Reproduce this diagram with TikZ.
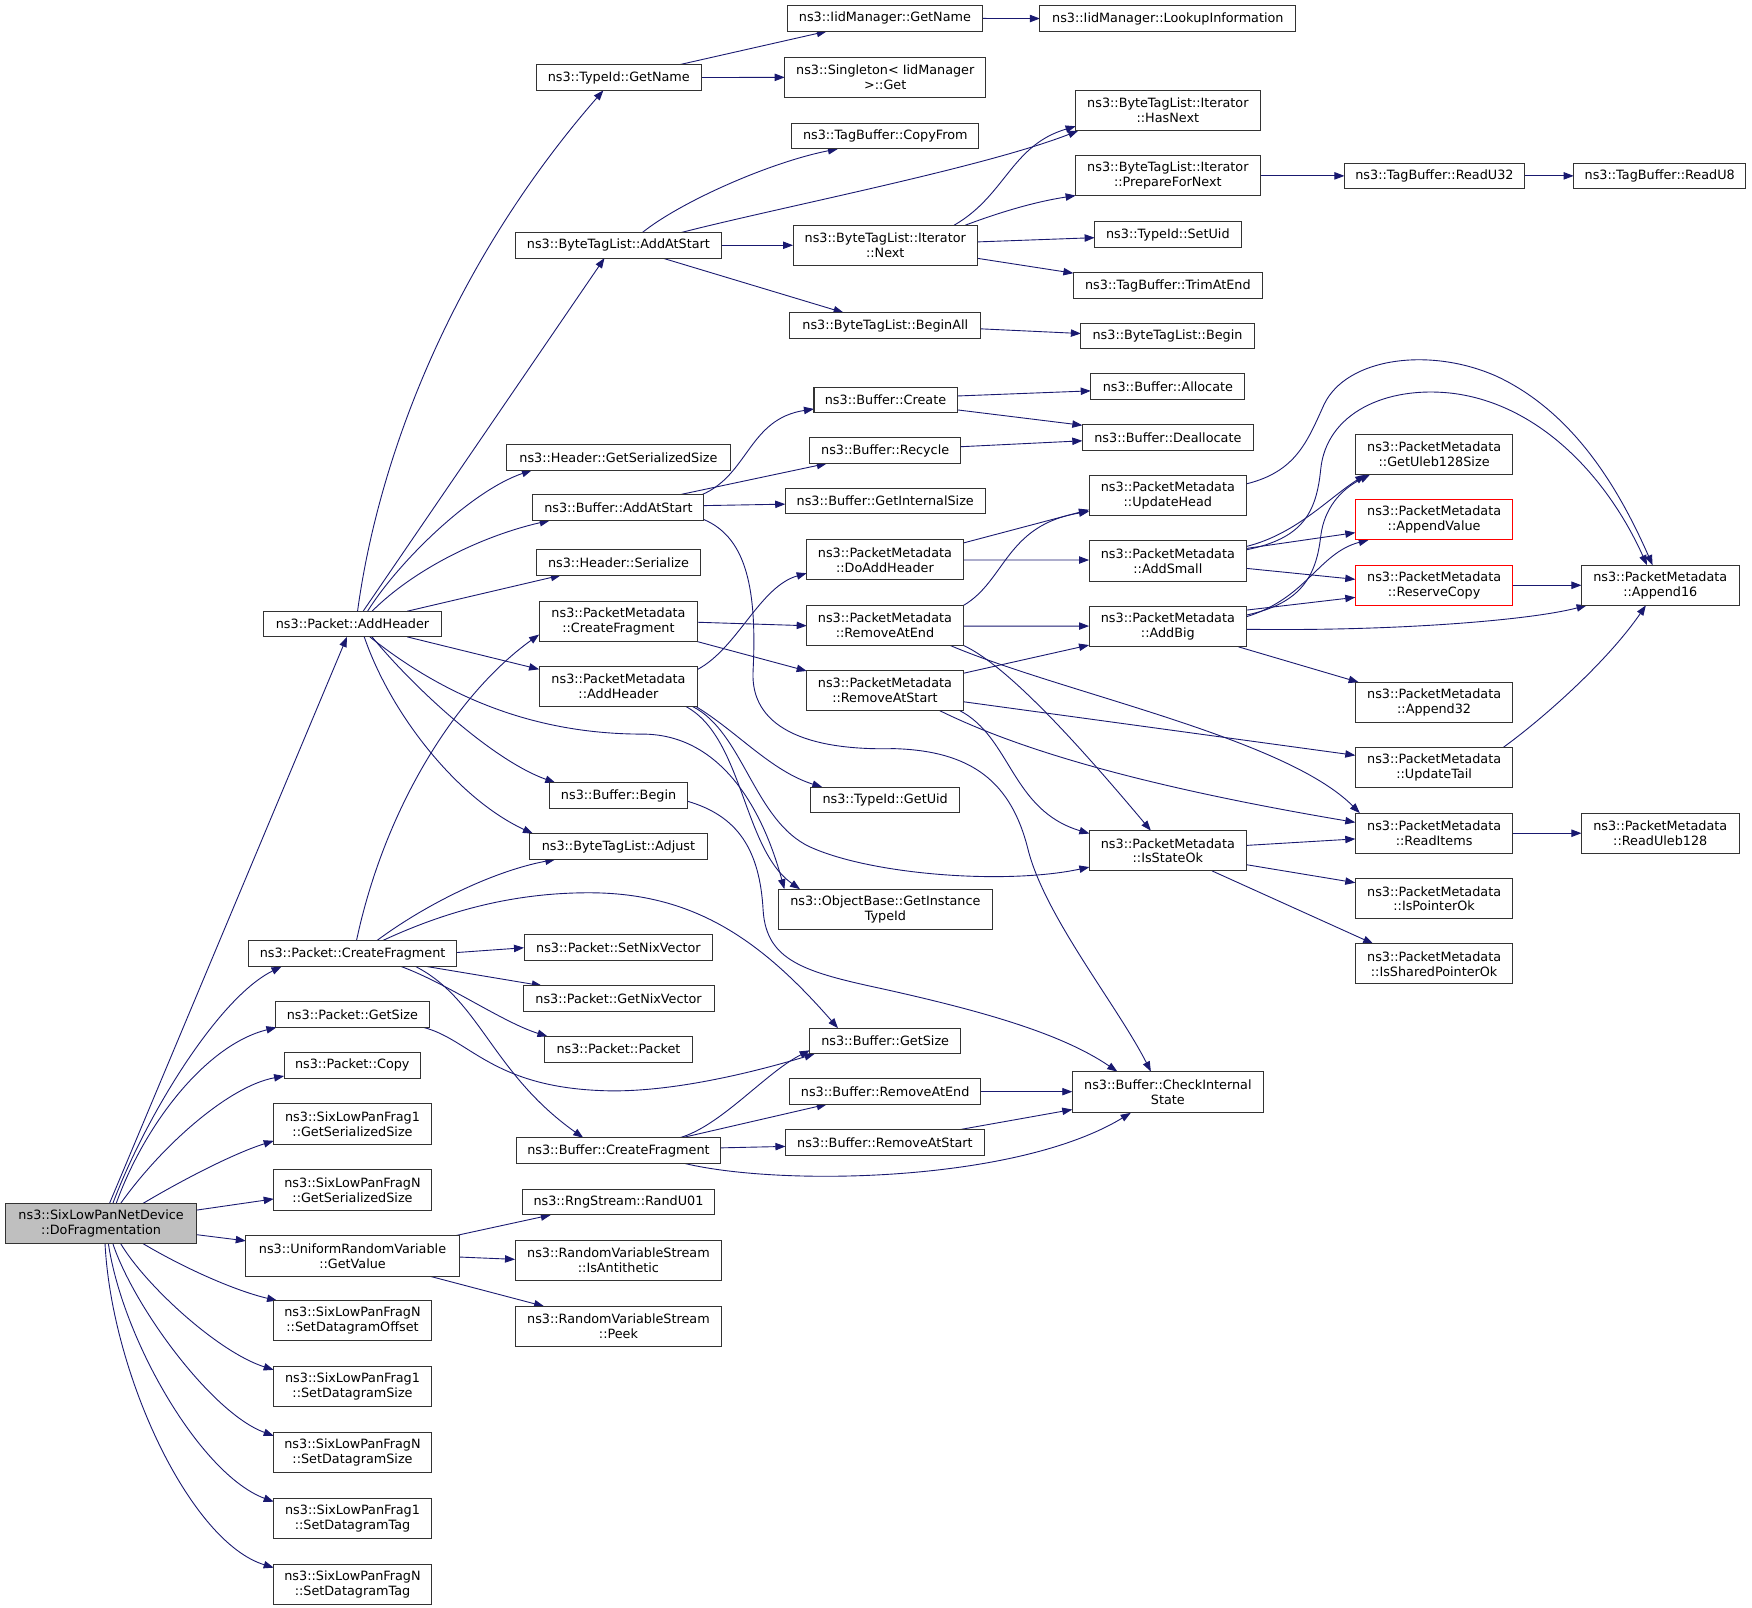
\documentclass[tikz,border=0pt]{standalone}
\usepackage{fontspec}
\setmainfont{DejaVu Sans}
\usetikzlibrary{arrows.meta,calc}
\definecolor{mblue}{HTML}{191970}
\definecolor{bgray}{HTML}{BFBFBF}
\pgfdeclarelayer{bg}
\pgfdeclarelayer{canvas}
\pgfsetlayers{canvas,bg,main}
\begin{document}
\begin{tikzpicture}[x=1pt,y=-1pt,
 fn/.style={draw=black!80, line width=0.9pt, fill=white, inner sep=0pt, minimum height=23pt, align=center, font=\fontsize{11.45pt}{13.3pt}\selectfont},
 fn2/.style={fn, minimum height=36pt},
 fnred/.style={fn2, draw=red},
 conn/.style={draw=mblue, line width=0.8pt, -{Triangle[length=9pt,width=6.6pt]}}]
\useasboundingbox (0,0) rectangle (1568,1438.3);
\begin{pgfonlayer}{canvas}
\fill[white] (0,0) rectangle (1568,1438.3);
\end{pgfonlayer}
% column B
\node[fn2, minimum width=171pt, fill=bgray] (dofrag) at (90.5,1095) {ns3::SixLowPanNetDevice\\::DoFragmentation};
\node[fn, minimum width=159pt] (pAddHeader) at (315.5,558.5) {ns3::Packet::AddHeader};
\node[fn, minimum width=186pt] (pCreateFrag) at (315.6,853.5) {ns3::Packet::CreateFragment};
\node[fn, minimum width=138pt] (pGetSize) at (315.4,908) {ns3::Packet::GetSize};
\node[fn, minimum width=122pt] (pCopy) at (315.3,953.5) {ns3::Packet::Copy};
\node[fn2, minimum width=141pt] (f1GSS) at (315.5,1006) {ns3::SixLowPanFrag1\\::GetSerializedSize};
\node[fn2, minimum width=141pt] (fNGSS) at (315.5,1065) {ns3::SixLowPanFragN\\::GetSerializedSize};
\node[fn2, minimum width=191pt] (urvGetValue) at (315.5,1124) {ns3::UniformRandomVariable\\::GetValue};
\node[fn2, minimum width=141pt] (fNSDO) at (315.5,1182) {ns3::SixLowPanFragN\\::SetDatagramOffset};
\node[fn2, minimum width=141pt] (f1SDS) at (315.5,1241) {ns3::SixLowPanFrag1\\::SetDatagramSize};
\node[fn2, minimum width=141pt] (fNSDS) at (315.5,1300) {ns3::SixLowPanFragN\\::SetDatagramSize};
\node[fn2, minimum width=141pt] (f1SDT) at (315.5,1359) {ns3::SixLowPanFrag1\\::SetDatagramTag};
\node[fn2, minimum width=141pt] (fNSDT) at (315.5,1418) {ns3::SixLowPanFragN\\::SetDatagramTag};
% column C
\node[fn, minimum width=148pt] (tiGetName) at (553.8,69.4) {ns3::TypeId::GetName};
\node[fn, minimum width=185pt] (btlAddAtStart) at (553.5,219.5) {ns3::ByteTagList::AddAtStart};
\node[fn, minimum width=200pt] (hGSS) at (553.5,409.3) {ns3::Header::GetSerializedSize};
\node[fn, minimum width=153pt] (bAddAtStart) at (553.5,454.3) {ns3::Buffer::AddAtStart};
\node[fn, minimum width=147pt] (hSerialize) at (553.5,503.3) {ns3::Header::Serialize};
\node[fn2, minimum width=142pt] (pmCreateFrag) at (553.5,555.9) {ns3::PacketMetadata\\::CreateFragment};
\node[fn2, minimum width=142pt] (pmAddHeader) at (553.5,614.4) {ns3::PacketMetadata\\::AddHeader};
\node[fn, minimum width=123pt] (bBegin) at (553.6,712) {ns3::Buffer::Begin};
\node[fn, minimum width=159pt] (btlAdjust) at (553.5,757.6) {ns3::ByteTagList::Adjust};
\node[fn, minimum width=169pt] (pSetNix) at (553.5,848.2) {ns3::Packet::SetNixVector};
\node[fn, minimum width=171pt] (pGetNix) at (553.6,893.7) {ns3::Packet::GetNixVector};
\node[fn, minimum width=132pt] (pPacket) at (553.5,939) {ns3::Packet::Packet};
\node[fn, minimum width=183pt] (bCreateFrag) at (553.5,1029.8) {ns3::Buffer::CreateFragment};
\node[fn, minimum width=172pt] (rngRand) at (553.5,1075.8) {ns3::RngStream::RandU01};
\node[fn2, minimum width=185pt] (rvsAnti) at (553.5,1128.1) {ns3::RandomVariableStream\\::IsAntithetic};
\node[fn2, minimum width=185pt] (rvsPeek) at (553.5,1187.1) {ns3::RandomVariableStream\\::Peek};
% column D
\node[fn, minimum width=175pt] (iidGetName) at (792,16.5) {ns3::IidManager::GetName};
\node[fn2, minimum width=180pt] (singGet) at (792.3,69.2) {ns3::Singleton< IidManager\\ >::Get};
\node[fn, minimum width=167pt] (tbCopyFrom) at (792.3,121.7) {ns3::TagBuffer::CopyFrom};
\node[fn2, minimum width=165pt] (itNext) at (792.3,219.5) {ns3::ByteTagList::Iterator\\::Next};
\node[fn, minimum width=171pt] (btlBeginAll) at (792.3,291.3) {ns3::ByteTagList::BeginAll};
\node[fn, minimum width=128pt] (bCreate) at (792.5,357.9) {ns3::Buffer::Create};
\node[fn, minimum width=135pt] (bRecycle) at (792.2,403.3) {ns3::Buffer::Recycle};
\node[fn, minimum width=179pt] (bGIS) at (792.3,448.5) {ns3::Buffer::GetInternalSize};
\node[fn2, minimum width=140pt] (pmDoAddHeader) at (792,501) {ns3::PacketMetadata\\::DoAddHeader};
\node[fn2, minimum width=140pt] (pmRemoveAtEnd) at (792,559.5) {ns3::PacketMetadata\\::RemoveAtEnd};
\node[fn2, minimum width=140pt] (pmRemoveAtStart) at (792,618) {ns3::PacketMetadata\\::RemoveAtStart};
\node[fn, minimum width=133pt] (tiGetUid) at (792.2,716) {ns3::TypeId::GetUid};
\node[fn2, minimum width=191pt] (obGITI) at (792.4,813.8) {ns3::ObjectBase::GetInstance\\TypeId};
\node[fn, minimum width=135pt] (bGetSize) at (792.2,931.7) {ns3::Buffer::GetSize};
\node[fn, minimum width=171pt] (bRemoveAtEnd) at (792.2,976.8) {ns3::Buffer::RemoveAtEnd};
\node[fn, minimum width=178pt] (bRemoveAtStart) at (792,1022.8) {ns3::Buffer::RemoveAtStart};
% column E
\node[fn, minimum width=229pt] (iidLookup) at (1045.2,16.6) {ns3::IidManager::LookupInformation};
\node[fn2, minimum width=165pt] (itHasNext) at (1045.2,99) {ns3::ByteTagList::Iterator\\::HasNext};
\node[fn2, minimum width=165pt] (itPrepare) at (1045.2,157.4) {ns3::ByteTagList::Iterator\\::PrepareForNext};
\node[fn, minimum width=131pt] (tiSetUid) at (1045.2,209.9) {ns3::TypeId::SetUid};
\node[fn, minimum width=169pt] (tbTrimAtEnd) at (1045.2,255.5) {ns3::TagBuffer::TrimAtEnd};
\node[fn, minimum width=155pt] (btlBegin) at (1044.9,300.7) {ns3::ByteTagList::Begin};
\node[fn, minimum width=138pt] (bAllocate) at (1045.2,346) {ns3::Buffer::Allocate};
\node[fn, minimum width=153pt] (bDeallocate) at (1045.2,391.4) {ns3::Buffer::Deallocate};
\node[fn2, minimum width=141pt] (pmUpdateHead) at (1045.2,443.6) {ns3::PacketMetadata\\::UpdateHead};
\node[fn2, minimum width=141pt] (pmAddSmall) at (1045.2,502.1) {ns3::PacketMetadata\\::AddSmall};
\node[fn2, minimum width=141pt] (pmAddBig) at (1045.2,560.9) {ns3::PacketMetadata\\::AddBig};
\node[fn2, minimum width=141pt] (pmIsStateOk) at (1045.2,761.4) {ns3::PacketMetadata\\::IsStateOk};
\node[fn2, minimum width=171pt, minimum height=37pt] (bCheckInternal) at (1045.2,977.5) {ns3::Buffer::CheckInternal\\State};
% column F
\node[fn, minimum width=161pt] (tbReadU32) at (1283.8,157.4) {ns3::TagBuffer::ReadU32};
\node[fn2, minimum width=141pt] (pmGetUleb) at (1283.5,406.9) {ns3::PacketMetadata\\::GetUleb128Size};
\node[fnred, minimum width=141pt] (pmAppendValue) at (1283.5,465.1) {ns3::PacketMetadata\\::AppendValue};
\node[fnred, minimum width=141pt] (pmReserveCopy) at (1283.5,523.8) {ns3::PacketMetadata\\::ReserveCopy};
\node[fn2, minimum width=141pt] (pmAppend32) at (1283.5,628.6) {ns3::PacketMetadata\\::Append32};
\node[fn2, minimum width=141pt] (pmUpdateTail) at (1283.5,687.2) {ns3::PacketMetadata\\::UpdateTail};
\node[fn2, minimum width=141pt] (pmReadItems) at (1283.5,745.7) {ns3::PacketMetadata\\::ReadItems};
\node[fn2, minimum width=141pt] (pmIsPointerOk) at (1283.5,804.3) {ns3::PacketMetadata\\::IsPointerOk};
\node[fn2, minimum width=141pt] (pmIsSharedPointerOk) at (1283.5,862.6) {ns3::PacketMetadata\\::IsSharedPointerOk};
% column G
\node[fn, minimum width=154pt] (tbReadU8) at (1485.4,157.4) {ns3::TagBuffer::ReadU8};
\node[fn2, minimum width=141pt] (pmAppend16) at (1485.9,523.8) {ns3::PacketMetadata\\::Append16};
\node[fn2, minimum width=141pt] (pmReadUleb) at (1485.9,745.7) {ns3::PacketMetadata\\::ReadUleb128};

\begin{pgfonlayer}{bg}
% from DoFragmentation
\draw[conn] ($(dofrag)+(7.5,-18)$) -- ($(pAddHeader)+(-5,11.5)$);
\draw[conn] ($(dofrag)+(10.5,-18)$) .. controls (130,1000) and (195,893) .. ($(pCreateFrag)+(-63.6,11.5)$);
\draw[conn] ($(dofrag)+(13.5,-18)$) .. controls (130,1005) and (185,935) .. ($(pGetSize)+(-68,11.5)$);
\draw[conn] ($(dofrag)+(17.5,-18)$) .. controls (145,1025) and (205,972) .. ($(pCopy)+(-61,9.5)$);
\draw[conn] ($(dofrag)+(37.5,-18)$) .. controls (165,1055) and (210,1032) .. ($(f1GSS)+(-70.5,15)$);
\draw[conn] ($(dofrag)+(85.5,-12)$) -- ($(fNGSS)+(-70.5,8)$);
\draw[conn] ($(dofrag)+(85.5,10)$) -- ($(urvGetValue)+(-95.5,-13.5)$);
\draw[conn] ($(dofrag)+(37.5,18)$) .. controls (165,1135) and (210,1155) .. ($(fNSDO)+(-67.5,-18)$);
\draw[conn] ($(dofrag)+(17.5,18)$) .. controls (130,1150) and (195,1210) .. ($(f1SDS)+(-70.5,-15)$);
\draw[conn] ($(dofrag)+(10.5,18)$) .. controls (120,1170) and (190,1265) .. ($(fNSDS)+(-70.5,-15)$);
\draw[conn] ($(dofrag)+(6.5,18)$) .. controls (110,1200) and (180,1320) .. ($(f1SDT)+(-70.5,-15)$);
\draw[conn] ($(dofrag)+(3.5,18)$) .. controls (100,1230) and (170,1380) .. ($(fNSDT)+(-70.5,-15)$);
% from Packet::AddHeader
\draw[conn] ($(pAddHeader)+(4.5,-11.5)$) .. controls (340,400) and (410,230) .. ($(tiGetName)+(-13.8,11.5)$);
\draw[conn] ($(pAddHeader)+(9.5,-11.5)$) -- ($(btlAddAtStart)+(-12.5,11.5)$);
\draw[conn] ($(pAddHeader)+(13.5,-11.5)$) .. controls (355,505) and (420,440) .. ($(hGSS)+(-77.5,11.5)$);
\draw[conn] ($(pAddHeader)+(17.5,-11.5)$) .. controls (370,510) and (430,480) .. ($(bAddAtStart)+(-61.5,11.5)$);
\draw[conn] ($(pAddHeader)+(49,-11.5)$) -- ($(hSerialize)+(-51.5,11.5)$);
\draw[conn] ($(pAddHeader)+(49,11.5)$) -- ($(pmAddHeader)+(-71,-15.4)$);
\draw[conn] ($(pAddHeader)+(17.5,11.5)$) .. controls (370,615) and (440,680) .. ($(bBegin)+(-56.6,-11.5)$);
\draw[conn] ($(pAddHeader)+(10.5,11.5)$) .. controls (350,640) and (410,715) .. ($(btlAdjust)+(-76.5,-11.5)$);
\draw[conn] ($(pAddHeader)+(15.5,11.5)$) .. controls (400,625) and (480,657) .. (575,657) .. controls (640,657) and (680,715) .. ($(obGITI)+(-90.4,-18)$);
% from PacketMetadata::AddHeader
\draw[conn] ($(pmAddHeader)+(71,-15.4)$) .. controls (660,580) and (680,525) .. ($(pmDoAddHeader)+(-70,12)$);
\draw[conn] ($(pmAddHeader)+(69.5,18)$) .. controls (660,655) and (690,690) .. ($(tiGetUid)+(-56.2,-11.5)$);
\draw[conn] ($(pmAddHeader)+(60.5,18)$) .. controls (665,660) and (665,760) .. ($(obGITI)+(-76.4,-18)$);
\draw[conn] ($(pmAddHeader)+(66.5,18)$) .. controls (665,655) and (675,735) .. (725,758) .. controls (780,783) and (900,792) .. ($(pmIsStateOk)+(-70.2,14.6)$);
% from PacketMetadata::CreateFragment
\draw[conn] ($(pmCreateFrag)+(71,1)$) -- ($(pmRemoveAtEnd)+(-70,0.5)$);
\draw[conn] ($(pmCreateFrag)+(69.5,18)$) -- ($(pmRemoveAtStart)+(-70,-17.5)$);
% from Packet::CreateFragment
\draw[conn] ($(pCreateFrag)+(3.4,-11.5)$) .. controls (345,720) and (410,620) .. ($(pmCreateFrag)+(-71,12)$);
\draw[conn] ($(pCreateFrag)+(21.4,-11.5)$) .. controls (380,810) and (440,780) .. ($(btlAdjust)+(-56.5,11.5)$);
\draw[conn] ($(pCreateFrag)+(26.4,-11.5)$) .. controls (400,815) and (460,799) .. (527,799) .. controls (620,799) and (680,840) .. ($(bGetSize)+(-42.2,-11.5)$);
\draw[conn] ($(pCreateFrag)+(93,-1)$) -- ($(pSetNix)+(-84.5,0)$);
\draw[conn] ($(pCreateFrag)+(66.4,11.5)$) -- ($(pGetNix)+(-68.6,-11.5)$);
\draw[conn] ($(pCreateFrag)+(43.4,11.5)$) .. controls (400,880) and (450,915) .. ($(pPacket)+(-63.5,-11.5)$);
\draw[conn] ($(pCreateFrag)+(56.4,11.5)$) .. controls (430,895) and (440,960) .. ($(bCreateFrag)+(-31.5,-11.5)$);
% Packet::GetSize
\draw[conn] ($(pGetSize)+(63.6,11.5)$) .. controls (420,930) and (440,972) .. (537,976) .. controls (600,979) and (680,958) .. ($(bGetSize)+(-63.2,11.5)$);
% UniformRandomVariable
\draw[conn] ($(urvGetValue)+(91.5,-18)$) -- ($(rngRand)+(-60.5,11.5)$);
\draw[conn] ($(urvGetValue)+(95.5,1)$) -- ($(rvsAnti)+(-92.5,-1)$);
\draw[conn] ($(urvGetValue)+(68.5,18)$) -- ($(rvsPeek)+(-66.5,-18)$);
% TypeId::GetName
\draw[conn] ($(tiGetName)+(54.2,-11.5)$) -- ($(iidGetName)+(-52,11.5)$);
\draw[conn] ($(tiGetName)+(74,0)$) -- ($(singGet)+(-90,0)$);
\draw[conn] ($(iidGetName)+(87.5,0)$) -- ($(iidLookup)+(-114.5,0)$);
% ByteTagList::AddAtStart
\draw[conn] ($(btlAddAtStart)+(21.5,-11.5)$) .. controls (610,180) and (690,145) .. ($(tbCopyFrom)+(-42.3,11.5)$);
\draw[conn] ($(btlAddAtStart)+(56.5,-11.5)$) .. controls (700,185) and (880,150) .. ($(itHasNext)+(-80.2,18)$);
\draw[conn] ($(btlAddAtStart)+(92.5,0)$) -- ($(itNext)+(-82.5,0)$);
\draw[conn] ($(btlAddAtStart)+(39.5,11.5)$) -- ($(btlBeginAll)+(-37.3,-11.5)$);
% Iterator::Next
\draw[conn] ($(itNext)+(61.7,-18)$) .. controls (900,175) and (905,130) .. ($(itHasNext)+(-82.5,14)$);
\draw[conn] ($(itNext)+(71.7,-18)$) .. controls (900,188) and (930,180) .. ($(itPrepare)+(-82.5,17.6)$);
\draw[conn] ($(itNext)+(82.5,-3)$) -- ($(tiSetUid)+(-65.5,2.8)$);
\draw[conn] ($(itNext)+(82.5,11.7)$) -- ($(tbTrimAtEnd)+(-84.5,-11)$);
\draw[conn] ($(itPrepare)+(82.5,0)$) -- ($(tbReadU32)+(-80.5,0)$);
\draw[conn] ($(tbReadU32)+(80.5,0)$) -- ($(tbReadU8)+(-77,0)$);
\draw[conn] ($(btlBeginAll)+(85.5,3)$) -- ($(btlBegin)+(-77.5,-2.2)$);
% Buffer::AddAtStart
\draw[conn] ($(bAddAtStart)+(74.5,-11.5)$) .. controls (670,425) and (670,375) .. ($(bCreate)+(-64,8.1)$);
\draw[conn] ($(bAddAtStart)+(54.5,-11.5)$) -- ($(bRecycle)+(-52.2,11.5)$);
\draw[conn] ($(bAddAtStart)+(76.5,-1.8)$) -- ($(bGIS)+(-89.5,2.7)$);
\draw[conn] ($(bAddAtStart)+(76.5,10.7)$) .. controls (665,480) and (678,520) .. (674,600) .. controls (671,650) and (720,672) .. (800,670) .. controls (870,672) and (905,700) .. (920,760) .. controls (935,820) and (1000,900) .. ($(bCheckInternal)+(-15.2,-18.5)$);
% Buffer::Begin
\draw[conn] ($(bBegin)+(61.4,5)$) .. controls (660,730) and (680,760) .. (683,815) .. controls (686,860) and (720,870) .. (790,885) .. controls (880,905) and (950,925) .. ($(bCheckInternal)+(-45.2,-18.5)$);
% Buffer::Create / Recycle
\draw[conn] ($(bCreate)+(64,-3.5)$) -- ($(bAllocate)+(-69,3.8)$);
\draw[conn] ($(bCreate)+(64,8.9)$) -- ($(bDeallocate)+(-76.5,-10.8)$);
\draw[conn] ($(bRecycle)+(67.5,-3.5)$) -- ($(bDeallocate)+(-76.5,3.1)$);
% DoAddHeader
\draw[conn] ($(pmDoAddHeader)+(70,-15)$) -- ($(pmUpdateHead)+(-70.5,12.6)$);
\draw[conn] ($(pmDoAddHeader)+(70,0.2)$) -- ($(pmAddSmall)+(-70.5,-0.9)$);
% RemoveAtEnd
\draw[conn] ($(pmRemoveAtEnd)+(70,-17.5)$) .. controls (900,520) and (900,470) .. ($(pmUpdateHead)+(-70.5,14.1)$);
\draw[conn] ($(pmRemoveAtEnd)+(70,0.8)$) -- ($(pmAddBig)+(-70.5,-0.6)$);
\draw[conn] ($(pmRemoveAtEnd)+(70,18)$) .. controls (900,595) and (960,660) .. ($(pmIsStateOk)+(-15.2,-18)$);
\draw[conn] ($(pmRemoveAtEnd)+(58,18)$) .. controls (950,620) and (1150,660) .. ($(pmReadItems)+(-66.5,-18)$);
% RemoveAtStart
\draw[conn] ($(pmRemoveAtStart)+(70,-15.4)$) -- ($(pmAddBig)+(-70.5,16.4)$);
\draw[conn] ($(pmRemoveAtStart)+(70,10)$) -- ($(pmUpdateTail)+(-70.5,-11.2)$);
\draw[conn] ($(pmRemoveAtStart)+(67,18)$) .. controls (905,660) and (905,725) .. ($(pmIsStateOk)+(-70.2,-15.4)$);
\draw[conn] ($(pmRemoveAtStart)+(49,18)$) .. controls (900,665) and (1000,700) .. ($(pmReadItems)+(-70.5,-9.7)$);
% UpdateHead, AddSmall, AddBig
\draw[conn] ($(pmUpdateHead)+(70.5,-10.6)$) .. controls (1160,422) and (1170,395) .. (1185,362) .. controls (1205,320) and (1280,310) .. (1340,337) .. controls (1410,370) and (1450,440) .. ($(pmAppend16)+(-6.9,-18)$);
\draw[conn] ($(pmAddSmall)+(70.5,-10.1)$) .. controls (1165,482) and (1178,460) .. (1182,420) .. controls (1187,370) and (1240,345) .. (1300,352) .. controls (1380,362) and (1440,430) .. ($(pmAppend16)+(-11.9,-18)$);
\draw[conn] ($(pmAddSmall)+(70.5,-13.1)$) .. controls (1160,478) and (1190,445) .. ($(pmGetUleb)+(-61.5,18)$);
\draw[conn] ($(pmAddSmall)+(70.5,-11.3)$) -- ($(pmAppendValue)+(-70.5,11.6)$);
\draw[conn] ($(pmAddSmall)+(70.5,6.6)$) -- ($(pmReserveCopy)+(-70.5,-5.3)$);
\draw[conn] ($(pmAddBig)+(70.5,-10.5)$) .. controls (1165,540) and (1178,515) .. (1182,480) .. controls (1185,455) and (1200,438) .. ($(pmGetUleb)+(-57.5,18)$);
\draw[conn] ($(pmAddBig)+(70.5,-9)$) .. controls (1170,535) and (1180,495) .. ($(pmAppendValue)+(-58.5,18)$);
\draw[conn] ($(pmAddBig)+(70.5,-14.9)$) -- ($(pmReserveCopy)+(-70.5,10.8)$);
\draw[conn] ($(pmAddBig)+(70.5,2.3)$) .. controls (1250,565) and (1370,555) .. ($(pmAppend16)+(-65.9,18)$);
\draw[conn] ($(pmAddBig)+(63.2,18)$) -- ($(pmAppend32)+(-67.5,-18)$);
\draw[conn] ($(pmReserveCopy)+(70.5,0)$) -- ($(pmAppend16)+(-70.5,0)$);
\draw[conn] ($(pmUpdateTail)+(61.5,-18)$) .. controls (1385,640) and (1440,590) .. ($(pmAppend16)+(-12.9,18)$);
% IsStateOk, ReadItems
\draw[conn] ($(pmIsStateOk)+(70.5,-4.8)$) -- ($(pmReadItems)+(-70.5,5.1)$);
\draw[conn] ($(pmIsStateOk)+(70.5,12.5)$) -- ($(pmIsPointerOk)+(-70.5,-14.3)$);
\draw[conn] ($(pmIsStateOk)+(39.5,18)$) -- ($(pmIsSharedPointerOk)+(-54.5,-18)$);
\draw[conn] ($(pmReadItems)+(70.5,0)$) -- ($(pmReadUleb)+(-70.5,0)$);
% Buffer::CreateFragment
\draw[conn] ($(bCreateFrag)+(54.5,-11.5)$) .. controls (645,1008) and (685,960) .. ($(bGetSize)+(-67.5,8.3)$);
\draw[conn] ($(bCreateFrag)+(56.5,-11.5)$) -- ($(bRemoveAtEnd)+(-52.2,11.5)$);
\draw[conn] ($(bCreateFrag)+(91.5,-2.5)$) -- ($(bRemoveAtStart)+(-89,3.2)$);
\draw[conn] ($(bCreateFrag)+(59.5,11.5)$) .. controls (700,1062) and (910,1058) .. ($(bCheckInternal)+(-33.2,18.5)$);
\draw[conn] ($(bRemoveAtEnd)+(85.5,0.2)$) -- ($(bCheckInternal)+(-85.5,-0.5)$);
\draw[conn] ($(bRemoveAtStart)+(65,-11.5)$) -- ($(bCheckInternal)+(-85.5,15.5)$);
\end{pgfonlayer}
\end{tikzpicture}
\end{document}
